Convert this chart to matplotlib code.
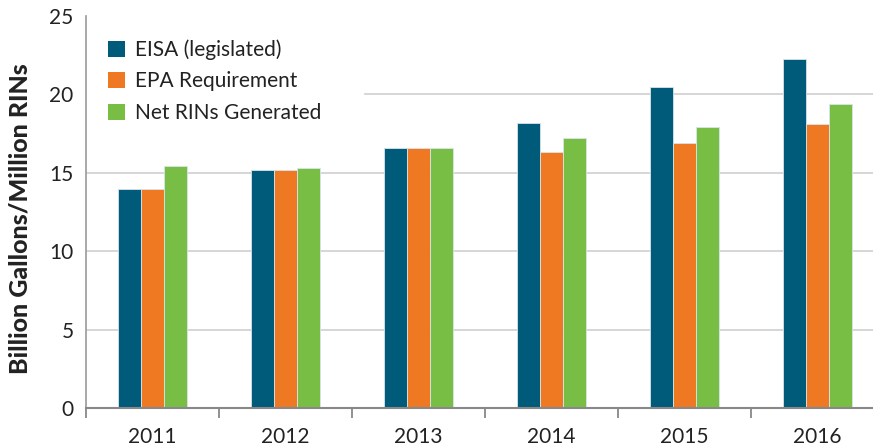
import matplotlib
matplotlib.use("Agg")
import matplotlib.pyplot as plt
from matplotlib.patches import Patch
import numpy as np

years = ["2011", "2012", "2013", "2014", "2015", "2016"]
eisa = [13.95, 15.2, 16.55, 18.15, 20.5, 22.25]
epa = [13.95, 15.2, 16.55, 16.3, 16.9, 18.1]
net_rins = [15.45, 15.3, 16.55, 17.25, 17.9, 19.4]
series_names = ["EISA (legislated)", "EPA Requirement", "Net RINs Generated"]
colors = ["#005B7B", "#EF7823", "#79BE44"]
y_ticks = [0, 5, 10, 15, 20, 25]

plt.rcParams['font.family'] = ['Lato', 'DejaVu Sans']

fig = plt.figure(figsize=(8.73, 4.46), dpi=100)
ax = fig.add_axes([86/873, 38/446, 798/873, 392/446])

x = np.arange(len(years))
w = 0.175
for i, (vals, c) in enumerate(zip([eisa, epa, net_rins], colors)):
    ax.bar(x + (i - 1) * w, vals, width=w, color=c, edgecolor="#d8e4ea",
           linewidth=0.6, zorder=3)

ax.set_xlim(-0.5, len(years) - 0.5)
ax.set_ylim(0, 25)
ax.set_yticks(y_ticks)
ax.set_yticklabels([str(t) for t in y_ticks], fontsize=15, color="#222222")
ax.set_xticks(x)
ax.set_xticklabels(years, fontsize=15, color="#222222")
ax.set_xticks(np.arange(-0.5, len(years), 1.0), minor=True)
ax.tick_params(axis='x', which='major', length=0, pad=14)
ax.tick_params(axis='x', which='minor', length=7, width=1.3, color="#888888", direction='out')
ax.tick_params(axis='y', length=0, pad=9)

for t in [5, 10, 15]:
    ax.axhline(t, color="#d0d0d0", linewidth=1.2, zorder=1)
ax.axhline(20, xmin=(365 - 86) / 798, color="#d0d0d0", linewidth=1.2, zorder=1)

for s in ['top', 'right']:
    ax.spines[s].set_visible(False)
ax.spines['left'].set_color("#999999")
ax.spines['left'].set_linewidth(1.2)
ax.spines['bottom'].set_color("#888888")
ax.spines['bottom'].set_linewidth(1.5)
ax.spines['bottom'].set_zorder(4)

ax.set_ylabel("Billion Gallons/Million RINs", fontsize=18, fontweight='black',
              color="#222222")
ax.yaxis.set_label_coords(-54/798, (446 - 38 - 219) / 392)

handles = [Patch(facecolor=c, edgecolor='none') for c in colors]
leg = ax.legend(handles, series_names, loc='upper left',
                bbox_to_anchor=(14/798, 1 - 15/392), frameon=False,
                fontsize=15, handlelength=0.8, handleheight=0.8,
                handletextpad=0.5, labelspacing=0.55, borderpad=0.4,
                borderaxespad=0)
leg.set_zorder(5)
for t in leg.get_texts():
    t.set_color("#222222")

fig.savefig("out.png", dpi=100)
